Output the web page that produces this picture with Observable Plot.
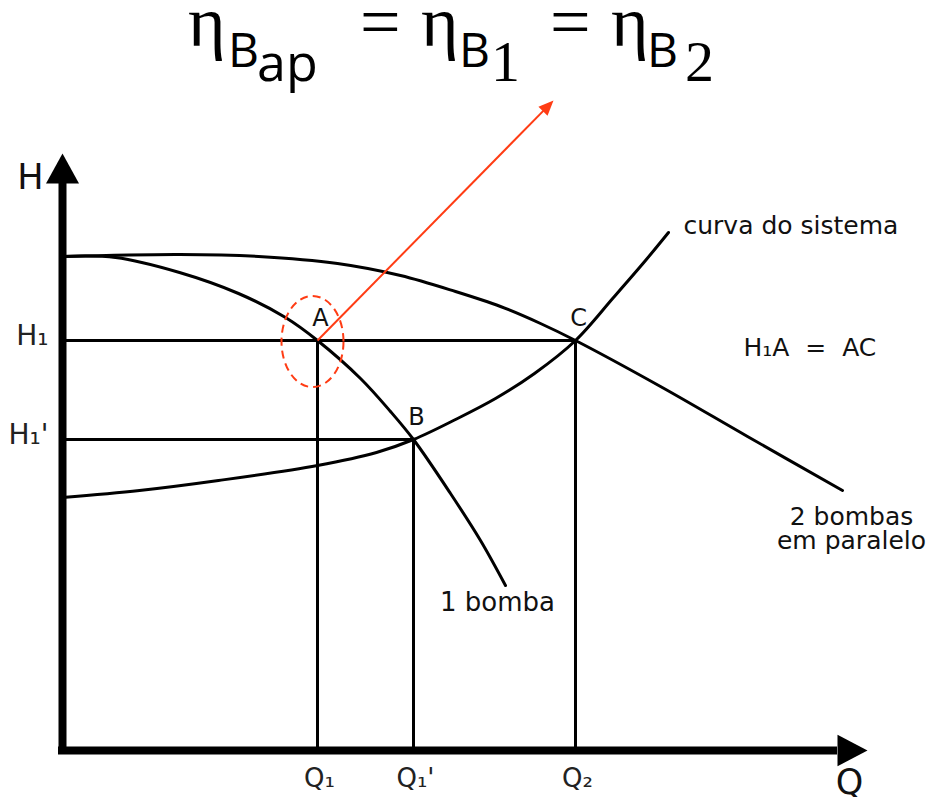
<!DOCTYPE html>
<html>
<head>
<meta charset="utf-8">
<script src="https://cdn.jsdelivr.net/npm/d3@7"></script>
<script src="https://cdn.jsdelivr.net/npm/@observablehq/plot@0.6"></script>
<style>
  html, body { margin: 0; padding: 0; background: #fff; }
  #title { position: relative; height: 100px; width: 930px; }
  #title span { position: absolute; line-height: 0; white-space: nowrap; color: #000; }
  .eta { font-family: "Liberation Serif", serif; font-size: 72px; }
  .bb { font-family: "Open Sans", sans-serif; font-size: 48px; }
  .sb { font-family: "Open Sans", sans-serif; font-size: 52px; }
  .num { font-family: "Liberation Serif", serif; font-size: 58px; }
  #chart svg { display: block; overflow: visible; }
</style>
</head>
<body>
<div id="title">
  <span class="eta" style="left:188px; top:22px;">η</span>
  <span class="bb"  style="left:228px; top:49px;">B</span>
  <span class="sb"  style="left:257px; top:61px;">ap</span>
  <span class="eta" style="left:360px; top:22px;">=</span>
  <span class="eta" style="left:421px; top:22px;">η</span>
  <span class="bb"  style="left:459px; top:49px;">B</span>
  <span class="num" style="left:491px; top:62px;">1</span>
  <span class="eta" style="left:550px; top:22px;">=</span>
  <span class="eta" style="left:611px; top:22px;">η</span>
  <span class="bb"  style="left:647px; top:49px;">B</span>
  <span class="num" style="left:685px; top:62px;">2</span>
</div>
<div id="chart"></div>
<script>
// ---- data (Q and H in arbitrary units) ----
const pointNames = ["A", "B", "C"];
const pointQ = [25.5, 35.1, 51.3];
const pointH = [41.0, 31.1, 41.0];

const bomba1Q = [0, 5.3, 11.7, 17.6, 22.3, 25.5, 29.8, 32.8, 35.1, 38.8, 41.8, 44.3];
const bomba1H = [49.4, 49.3, 47.8, 45.7, 43.3, 41.0, 37.2, 33.9, 31.1, 25.7, 21.0, 16.5];

const bombas2Q = [0, 11.7, 19.6, 27.5, 33.8, 39.3, 43.8, 47.8, 51.3, 59.8, 68.5, 78.0];
const bombas2H = [49.4, 49.6, 49.4, 48.7, 47.5, 45.9, 44.4, 42.7, 41.0, 36.4, 31.4, 26.0];

const sistemaQ = [0, 7.7, 15.6, 25.5, 31.4, 35.1, 39.3, 43.3, 47.2, 51.3, 55.1, 58.3, 60.6];
const sistemaH = [25.3, 26.0, 27.0, 28.5, 29.8, 31.1, 33.1, 35.2, 37.7, 41.0, 45.3, 49.0, 51.8];

const hTickValues = [41.0, 31.1];
const hTickLabels = ["H\u2081", "H\u2081'"];
const qTickValues = [25.5, 35.1, 51.3];
const qTickLabels = ["Q\u2081", "Q\u2081'", "Q\u2082"];

const axisTipH = 59.7;   // top of H axis
const axisTipQ = 80.5;   // end of Q axis
const redTipQ = 49.1, redTipH = 65.0;   // tip of the red arrow
const ellipseQ = 25.0, ellipseH = 40.9; // dashed ellipse centre around A

// ---- build tables ----
const toRows = (qs, hs) => qs.map((Q, i) => ({Q, H: hs[i]}));
const points = pointNames.map((name, i) => ({name, Q: pointQ[i], H: pointH[i]}));
const hLines = [{H: pointH[0], Q: pointQ[2]}, {H: pointH[1], Q: pointQ[1]}];
const bomba1 = toRows(bomba1Q, bomba1H);
const bombas2 = toRows(bombas2Q, bombas2H);
const sistema = toRows(sistemaQ, sistemaH);
const hTicks = hTickValues.map((H, i) => ({H, label: hTickLabels[i]}));
const qTicks = qTickValues.map((Q, i) => ({Q, label: qTickLabels[i]}));
const last = a => [a[a.length - 1]];

// ---- custom symbols ----
function headSymbol(ux, uy, widthRatio) {
  return {
    draw(ctx, size) {
      const L = Math.sqrt(size / Math.PI);
      const w = L * widthRatio / 2;
      const bx = -ux * L, by = -uy * L, px = -uy, py = ux;
      ctx.moveTo(0, 0);
      ctx.lineTo(bx + px * w, by + py * w);
      ctx.lineTo(bx - px * w, by - py * w);
      ctx.closePath();
    }
  };
}
function ellipseSymbol(aspect) {
  return {
    draw(ctx, size) {
      const rx = Math.sqrt(size / Math.PI), ry = rx * aspect, k = 0.5523;
      ctx.moveTo(rx, 0);
      ctx.bezierCurveTo(rx, ry * k, rx * k, ry, 0, ry);
      ctx.bezierCurveTo(-rx * k, ry, -rx, ry * k, -rx, 0);
      ctx.bezierCurveTo(-rx, -ry * k, -rx * k, -ry, 0, -ry);
      ctx.bezierCurveTo(rx * k, -ry, rx, -ry * k, rx, 0);
      ctx.closePath();
    }
  };
}

const RED = "#ff3c14";
const dq = redTipQ - pointQ[0], dh = redTipH - pointH[0];
const dl = Math.hypot(dq, dh);
const redHead = headSymbol(dq / dl, -dh / dl, 0.85);

const chart = Plot.plot({
  width: 930,
  height: 697,
  marginLeft: 62, marginRight: 0, marginTop: 0, marginBottom: 0,
  x: {domain: [0, 86.8], axis: null},
  y: {domain: [-4.7, 65.0], axis: null},
  style: {background: "none", fontFamily: "DejaVu Sans", overflow: "visible", color: "#000"},
  marks: [
    // guide lines
    Plot.ruleY(hLines, {y: "H", x1: 0, x2: "Q", stroke: "#000", strokeWidth: 3}),
    Plot.ruleX(points, {x: "Q", y1: 0, y2: "H", stroke: "#000", strokeWidth: 3}),
    // curves
    Plot.line(bomba1, {x: "Q", y: "H", curve: "catmull-rom", stroke: "#000", strokeWidth: 3}),
    Plot.line(bombas2, {x: "Q", y: "H", curve: "catmull-rom", stroke: "#000", strokeWidth: 3}),
    Plot.line(sistema, {x: "Q", y: "H", curve: "catmull-rom", stroke: "#000", strokeWidth: 3}),
    // axes
    Plot.ruleX([0], {x: d => d, y1: -0.4, y2: axisTipH - 3, stroke: "#000", strokeWidth: 8}),
    Plot.ruleY([0], {y: d => d, x1: -0.4, x2: axisTipQ - 3, stroke: "#000", strokeWidth: 8}),
    Plot.dot([{Q: 0, H: axisTipH}], {x: "Q", y: "H", r: 30, symbol: headSymbol(0, -1, 1.1), fill: "#000", stroke: "none"}),
    Plot.dot([{Q: axisTipQ, H: 0}], {x: "Q", y: "H", r: 30, symbol: headSymbol(1, 0, 1.05), fill: "#000", stroke: "none"}),
    // red annotation
    Plot.dot([{Q: ellipseQ, H: ellipseH}], {x: "Q", y: "H", r: 31, symbol: ellipseSymbol(1.47), fill: "none", stroke: RED, strokeWidth: 2, strokeDasharray: "8,5"}),
    Plot.link([{q1: pointQ[0], h1: pointH[0], q2: redTipQ - dq / dl * 1.0, h2: redTipH - dh / dl * 1.0}], {x1: "q1", y1: "h1", x2: "q2", y2: "h2", stroke: RED, strokeWidth: 2}),
    Plot.dot([{Q: redTipQ, H: redTipH}], {x: "Q", y: "H", r: 15, symbol: redHead, fill: RED, stroke: "none"}),
    // point labels
    Plot.text(points, {x: "Q", y: "H", text: "name", dx: 3, dy: -22, fontSize: 24, fill: "#111"}),
    // curve labels
    Plot.text(last(sistema), {x: "Q", y: "H", text: () => "curva do sistema", textAnchor: "start", dx: 15, dy: -7, fontSize: 25, fill: "#111"}),
    Plot.text(last(bombas2), {x: "Q", y: "H", text: () => "2 bombas\nem paralelo", lineHeight: 0.95, dx: 9, dy: 39, fontSize: 25, fill: "#111"}),
    Plot.text(last(bomba1), {x: "Q", y: "H", text: () => "1 bomba", dx: -8, dy: 17, fontSize: 26, fill: "#111"}),
    Plot.text([points[2]], {x: "Q", y: "H", text: () => "H\u2081A\u00a0 =\u00a0 AC", textAnchor: "start", dx: 168, dy: 7, fontSize: 25, fill: "#111"}),
    // tick labels
    Plot.text(hTicks, {x: 0, y: "H", text: "label", textAnchor: "end", dx: -14, dy: -4, fontSize: 28, fill: "#222"}),
    Plot.text(qTicks, {x: "Q", y: 0, text: "label", dy: 28, dx: 2, fontSize: 26, fill: "#222"}),
    // axis names
    Plot.text([{Q: 0, H: axisTipH}], {x: "Q", y: "H", text: () => "H", dx: -32, dy: 24, fontSize: 35, fill: "#111"}),
    Plot.text([{Q: axisTipQ, H: 0}], {x: "Q", y: "H", text: () => "Q", dx: -18, dy: 32, fontSize: 35, fill: "#111"})
  ]
});
document.getElementById("chart").appendChild(chart);
</script>
</body>
</html>
